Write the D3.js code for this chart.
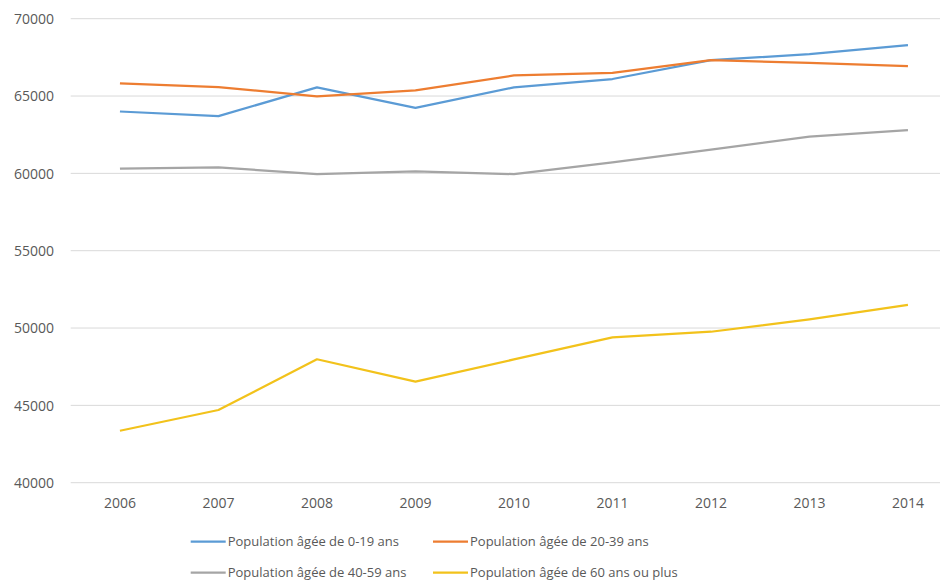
<!DOCTYPE html>
<html><head><meta charset="utf-8">
<script src="https://cdn.jsdelivr.net/npm/d3@7"></script>
<style>body{margin:0;background:#fff}svg{display:block}text{font-family:"Open Sans","Noto Sans",sans-serif}</style>
</head><body><svg id="c" width="940" height="580"></svg>
<script>
const years = ["2006","2007","2008","2009","2010","2011","2012","2013","2014"];
const pop0_19  = [64000,63700,65560,64240,65560,66100,67320,67710,68290];
const pop20_39 = [65820,65580,64980,65370,66330,66500,67320,67150,66940];
const pop40_59 = [60300,60390,59950,60130,59950,60710,61530,62370,62800];
const pop60p   = [43360,44700,47980,46530,47970,49400,49760,50560,51490];
const yTicks = [40000,45000,50000,55000,60000,65000,70000];
const seriesNames = ["Population âgée de 0-19 ans","Population âgée de 20-39 ans","Population âgée de 40-59 ans","Population âgée de 60 ans ou plus"];
const colors = ["#5B9BD5","#ED7D31","#A5A5A5","#F2C21B"];
const series = [pop0_19,pop20_39,pop40_59,pop60p];

const svg = d3.select("#c");
const x = d3.scaleBand().domain(years).range([70.7,957.2]);
const y = d3.scaleLinear().domain([40000,70000]).range([482.7,18.7]);

// gridlines
svg.append("g").selectAll("line").data(yTicks).join("line")
  .attr("x1",70.7).attr("x2",940).attr("y1",d=>y(d)).attr("y2",d=>y(d))
  .attr("stroke","#D9D9D9").attr("stroke-width",1);

// y labels
const yAxis = svg.append("g").attr("transform","translate(54,0)")
  .call(d3.axisLeft(y).tickValues(yTicks).tickSize(0).tickPadding(0).tickFormat(d3.format("d")));
yAxis.select(".domain").remove();
yAxis.selectAll("text").attr("fill","#595959").style("font-size","14px").attr("dy","0.35em");

// x labels
const xAxis = svg.append("g").attr("transform","translate(0,503)")
  .call(d3.axisBottom(x).tickSize(0).tickPadding(0));
xAxis.select(".domain").remove();
xAxis.selectAll("text").attr("fill","#595959").style("font-size","14px").attr("y",0).attr("dy","0.35em");

// lines
const line = d3.line().x((d,i)=>x(years[i])+x.bandwidth()/2).y(d=>y(d));
svg.append("g").selectAll("path").data(series).join("path")
  .attr("d",line).attr("fill","none")
  .attr("stroke",(d,i)=>colors[i]).attr("stroke-width",2.25).attr("stroke-linejoin","round");

// legend
const legPos = [[190.7,541.7],[433,541.7],[190.7,572.7],[433,572.7]];
const lg = svg.append("g").selectAll("g").data(seriesNames).join("g")
  .attr("transform",(d,i)=>`translate(${legPos[i][0]},${legPos[i][1]})`);
lg.append("line").attr("x1",0).attr("x2",35).attr("stroke",(d,i)=>colors[i]).attr("stroke-width",2.25);
lg.append("text").attr("x",37).attr("dy","0.35em").attr("fill","#595959").style("font-size","13px").text(d=>d);
</script></body></html>
